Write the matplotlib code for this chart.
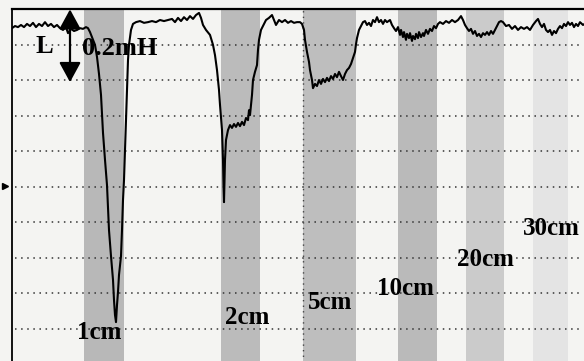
import matplotlib.pyplot as plt

# scanned inductance trace: position along the scan vs. inductance change (mH)
trace_x = [12, 15, 18, 21, 24, 27, 30, 33, 36, 39, 42, 45, 48, 51, 54, 57, 60, 63, 66, 68,
           71, 74, 77, 80, 83, 86, 88, 90, 93, 95, 97, 99, 101, 103, 105, 107, 109, 111, 113, 114,
           115, 116, 117, 118, 119, 121, 122, 123, 124, 125, 126, 127, 128, 129, 131, 133, 136, 140, 144, 148,
           152, 156, 160, 164, 168, 172, 175, 178, 181, 184, 187, 190, 193, 196, 199, 201, 203, 206, 210, 213,
           215, 217, 219, 220, 222, 223, 223.5, 224, 225, 226, 228, 230, 232, 234, 236, 238, 240, 242, 244, 246,
           248, 249, 250, 251, 252, 253, 255, 257, 258, 259, 261, 263, 266, 269, 272, 274, 276, 279, 282, 285,
           288, 291, 294, 297, 300, 302, 304, 305, 307, 309, 310, 312, 313, 315, 317, 319, 321, 323, 325, 327,
           329, 331, 333, 335, 337, 339, 341, 343, 345, 347, 349, 351, 353, 355, 356, 357, 359, 361, 363, 365,
           367, 369, 371, 373, 375, 377, 379, 381, 383, 385, 387, 390, 392, 394, 396, 398, 400, 401, 403, 404,
           406, 407, 409, 410, 412, 413, 415, 416, 418, 419, 421, 423, 424, 426, 428, 430, 432, 434, 436, 438,
           440, 443, 446, 449, 452, 455, 458, 461, 463, 465, 467, 469, 471, 473, 475, 477, 479, 481, 483, 485,
           487, 489, 491, 493, 495, 497, 499, 501, 503, 506, 509, 512, 515, 518, 521, 524, 527, 530, 533, 536,
           538, 540, 542, 544, 546, 548, 550, 552, 554, 556, 558, 560, 562, 564, 566, 568, 570, 572, 574, 576,
           578, 580, 583, 586]
trace_L = [-0.054, -0.048, -0.051, -0.045, -0.051, -0.042, -0.048, -0.039, -0.051, -0.042,
           -0.048, -0.037, -0.048, -0.042, -0.051, -0.045, -0.054, -0.059, -0.051, -0.068,
           -0.056, -0.062, -0.059, -0.054, -0.056, -0.051, -0.054, -0.065, -0.087, -0.101,
           -0.135, -0.183, -0.242, -0.349, -0.425, -0.496, -0.623, -0.696, -0.763, -0.820,
           -0.862, -0.882, -0.834, -0.797, -0.749, -0.696, -0.623, -0.538, -0.482, -0.397,
           -0.313, -0.228, -0.144, -0.101, -0.059, -0.042, -0.037, -0.034, -0.039, -0.037,
           -0.034, -0.037, -0.031, -0.034, -0.031, -0.028, -0.037, -0.025, -0.034, -0.023,
           -0.031, -0.020, -0.028, -0.017, -0.011, -0.025, -0.045, -0.059, -0.073, -0.101,
           -0.130, -0.172, -0.228, -0.270, -0.341, -0.425, -0.496, -0.544, -0.425, -0.369,
           -0.341, -0.327, -0.335, -0.324, -0.332, -0.321, -0.330, -0.318, -0.327, -0.307,
           -0.313, -0.285, -0.299, -0.270, -0.242, -0.200, -0.177, -0.158, -0.115, -0.087,
           -0.059, -0.048, -0.031, -0.025, -0.017, -0.031, -0.045, -0.031, -0.037, -0.031,
           -0.039, -0.034, -0.039, -0.037, -0.037, -0.042, -0.059, -0.087, -0.121, -0.149,
           -0.172, -0.200, -0.223, -0.211, -0.217, -0.200, -0.211, -0.197, -0.206, -0.194,
           -0.203, -0.189, -0.197, -0.183, -0.192, -0.177, -0.189, -0.200, -0.183, -0.172,
           -0.166, -0.155, -0.138, -0.121, -0.099, -0.082, -0.059, -0.048, -0.037, -0.034,
           -0.045, -0.039, -0.048, -0.031, -0.037, -0.023, -0.037, -0.031, -0.042, -0.031,
           -0.037, -0.031, -0.045, -0.054, -0.062, -0.051, -0.073, -0.059, -0.079, -0.065,
           -0.087, -0.070, -0.082, -0.068, -0.090, -0.076, -0.085, -0.070, -0.082, -0.065,
           -0.079, -0.068, -0.076, -0.059, -0.070, -0.056, -0.062, -0.048, -0.054, -0.042,
           -0.037, -0.042, -0.034, -0.039, -0.031, -0.037, -0.031, -0.020, -0.031, -0.045,
           -0.054, -0.062, -0.056, -0.070, -0.062, -0.076, -0.070, -0.079, -0.068, -0.073,
           -0.065, -0.073, -0.062, -0.070, -0.059, -0.048, -0.037, -0.034, -0.037, -0.048,
           -0.045, -0.056, -0.048, -0.059, -0.051, -0.056, -0.051, -0.059, -0.045, -0.034,
           -0.028, -0.042, -0.051, -0.042, -0.059, -0.065, -0.059, -0.073, -0.062, -0.068,
           -0.056, -0.048, -0.054, -0.042, -0.048, -0.037, -0.045, -0.039, -0.051, -0.042,
           -0.048, -0.037, -0.045, -0.039]

# gap zones (shaded bands) and their labels
band_labels = ['1cm', '2cm', '5cm', '10cm', '20cm', '30cm']
band_start = [84, 221, 303, 398, 466, 533]
band_end = [124, 260, 356, 437, 504, 568]
band_gray = ['#b8b8b8', '#bbbbbb', '#bebebe', '#bababa', '#cbcbcb', '#e4e4e4']
label_x = [99, 247, 330, 405, 485, 551]
label_L = [-0.910, -0.870, -0.828, -0.786, -0.707, -0.617]

grid_L = [-0.1, -0.2, -0.3, -0.4, -0.5, -0.6, -0.7, -0.8, -0.9]

paper = '#f4f4f2'
serif = ['Liberation Serif', 'DejaVu Serif']

fig = plt.figure(figsize=(5.84, 3.61), dpi=100, facecolor=paper)
ax = fig.add_axes([12 / 584, -3 / 361, 580 / 584, 355 / 361])
ax.set_facecolor(paper)
ax.set_xlim(12, 592)
ax.set_ylim(-1.0, 0.0)

for x0, x1, c in zip(band_start, band_end, band_gray):
    ax.axvspan(x0, x1, color=c, lw=0, zorder=0)

for g in grid_L:
    ax.axhline(g, xmin=0.005, xmax=0.985, color='#333333', lw=1.1,
               ls=(0, (1, 3)), zorder=1)
ax.axvline(band_start[2], color='#444444', lw=1.0, ls=(0, (1, 3)), zorder=1)

ax.plot(trace_x, trace_L, color='black', lw=1.5, zorder=3)

for lab, x, y in zip(band_labels, label_x, label_L):
    ax.text(x, y, lab, ha='center', va='center', fontsize=18,
            family=serif, fontweight='bold', zorder=4)

# scale bar: 0.2 mH
ax.annotate('', xy=(70, -0.001), xytext=(70, -0.206),
            arrowprops=dict(arrowstyle='<|-|>,head_length=0.55,head_width=0.3',
                            color='black', lw=1.6, mutation_scale=22,
                            shrinkA=0, shrinkB=0),
            annotation_clip=False, zorder=5)
ax.text(44, -0.107, 'L', ha='center', va='center', fontsize=19,
        family=serif, fontweight='bold')
ax.text(120, -0.110, '0.2mH', ha='center', va='center', fontsize=19,
        family=serif, fontweight='bold')

ax.plot([5], [-0.499], marker='>', color='black', ms=5, clip_on=False)

for side in ['right', 'bottom']:
    ax.spines[side].set_visible(False)
ax.spines['left'].set_linewidth(1.3)
ax.spines['top'].set_linewidth(1.6)
ax.set_xticks([])
ax.set_yticks([])

fig.savefig('out.png', dpi=100, facecolor=paper)
